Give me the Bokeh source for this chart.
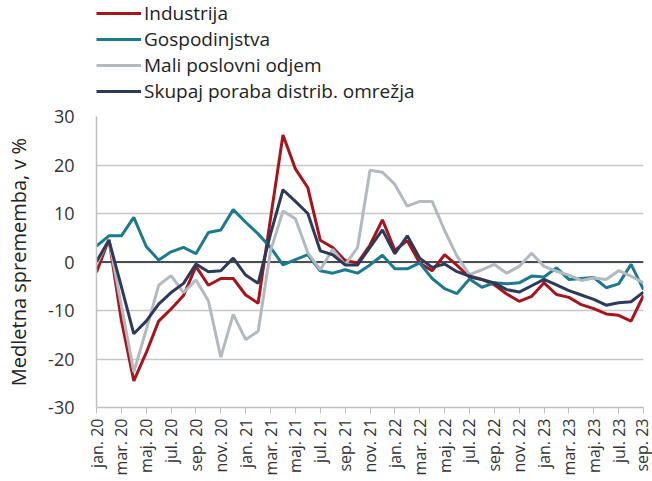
import math
from bokeh.plotting import figure
from bokeh.layouts import column
from bokeh.models import Range1d, FixedTicker, Legend, LegendItem, Span, ColumnDataSource
from bokeh.embed import file_html
from bokeh.resources import INLINE

mon = ["jan", "feb", "mar", "apr", "maj", "jun", "jul", "avg", "sep", "okt", "nov", "dec"]
months = [f"{mon[i % 12]}. {20 + i // 12}" for i in range(45)]
y_ticks = [-30, -20, -10, 0, 10, 20, 30]

industrija = [-2.1, 4.7, -12, -24.5, -18.7, -12.2, -9.7, -6.9, -0.9, -4.8, -3.4, -3.4, -6.8, -8.5, 9,
              26.2, 19.2, 15.3, 4.5, 3.0, 0.3, -0.2, 3.5, 8.7, 2.4, 4.4, -0.2, -1.8, 1.5, -0.7,
              -3.1, -3.6, -4.7, -6.6, -8.1, -7.1, -4.3, -6.7, -7.3, -8.8, -9.6, -10.7, -11, -12.2, -6.9]
gospodinjstva = [3.3, 5.4, 5.4, 9.2, 3.2, 0.4, 2.1, 3.0, 1.7, 6.1, 6.6, 10.8, 8.2, 5.8, 3.0,
                 -0.6, 0.5, 1.5, -1.8, -2.3, -1.6, -2.3, -0.6, 1.4, -1.4, -1.4, -0.2, -3.4, -5.5, -6.5,
                 -3.5, -5.2, -4.3, -4.5, -4.3, -2.9, -3.1, -1.2, -3.6, -3.4, -3.2, -5.3, -4.5, -0.5, -5.7]
mali = [-0.5, 4.7, -9, -22.7, -14, -4.8, -2.8, -6.3, -3.7, -8, -19.6, -10.8, -16, -14.3, 2.3,
        10.5, 8.9, 1.9, -1.6, 2.6, -0.6, 3.0, 18.9, 18.5, 16.0, 11.5, 12.5, 12.5, 6.5, 1.2,
        -2.6, -1.6, -0.5, -2.3, -0.9, 1.8, -0.9, -1.9, -2.7, -3.8, -3.3, -3.6, -1.8, -2.9, -4.3]
skupaj = [0.1, 4.5, -5.1, -14.8, -12.2, -8.7, -6.3, -4.4, -0.4, -2, -1.8, 0.8, -2.7, -4.4, 5.8,
          14.9, 12.5, 10.0, 2.3, 1.5, -0.6, -0.6, 3.0, 6.6, 1.7, 5.4, 0.8, -1.1, -0.4, -2,
          -2.9, -3.6, -4.3, -5.7, -6.2, -4.9, -3.6, -4.7, -5.9, -6.8, -7.7, -8.9, -8.4, -8.2, -6.2]

names = ["Industrija", "Gospodinjstva", "Mali poslovni odjem", "Skupaj poraba distrib. omrežja"]
colors = ["#A8141B", "#1B7A8E", "#B3BABF", "#2E3A5A"]
series = [industrija, gospodinjstva, mali, skupaj]

FONT = "Open Sans"
TXT = "#333333"

# ---- main chart ----
p = figure(width=652, height=377, output_backend="svg", toolbar_location=None,
           x_range=Range1d(0, 44), y_range=Range1d(-30, 30),
           min_border_left=96, min_border_right=9, min_border_top=12, min_border_bottom=74)
p.outline_line_color = None
p.background_fill_color = "white"
p.border_fill_color = "white"

p.xgrid.grid_line_color = None
p.ygrid.grid_line_color = "#C6C6C6"
p.ygrid.grid_line_width = 1.6

p.yaxis.ticker = FixedTicker(ticks=y_ticks)
p.yaxis.major_label_overrides = {t: str(t) for t in y_ticks}
p.yaxis.major_tick_line_color = None
p.yaxis.minor_tick_line_color = None
p.yaxis.axis_line_color = "#BFBFBF"
p.yaxis.axis_line_width = 1.5
p.yaxis.major_label_text_font = FONT
p.yaxis.major_label_text_font_size = "18px"
p.yaxis.major_label_text_color = TXT
p.yaxis.major_label_standoff = 16
p.yaxis.axis_label = "Medletna sprememba, v %"
p.yaxis.axis_label_text_font = FONT
p.yaxis.axis_label_text_font_style = "normal"
p.yaxis.axis_label_text_font_size = "20px"
p.yaxis.axis_label_text_color = "#222222"
p.yaxis.axis_label_standoff = 13

p.xaxis.ticker = FixedTicker(ticks=list(range(0, 45, 2)))
p.xaxis.major_label_overrides = {i: months[i] for i in range(0, 45, 2)}
p.xaxis.major_label_orientation = math.pi / 2
p.xaxis.major_label_text_font = FONT
p.xaxis.major_label_text_font_size = "16px"
p.xaxis.major_label_text_color = TXT
p.xaxis.major_tick_line_color = "#BFBFBF"
p.xaxis.major_tick_in = 0
p.xaxis.major_tick_out = 6
p.xaxis.minor_tick_line_color = None
p.xaxis.axis_line_color = "#BFBFBF"
p.xaxis.axis_line_width = 1.5
p.xaxis.major_label_standoff = 5

zero = Span(location=0, dimension="width", line_color="#474C57", line_width=1.8, level="underlay")
p.add_layout(zero)

x = list(range(45))
sources = []
for col, vals in zip(colors, series):
    src = ColumnDataSource(dict(x=x, y=vals))
    sources.append(src)
    p.line("x", "y", source=src, line_color=col, line_width=3)

# ---- legend strip above the chart ----
lf = figure(width=652, height=104, output_backend="svg", toolbar_location=None,
            x_axis_type=None, y_axis_type=None,
            x_range=Range1d(0, 1), y_range=Range1d(0, 1),
            min_border_left=0, min_border_right=0, min_border_top=0, min_border_bottom=0)
lf.outline_line_color = None
lf.background_fill_color = "white"
lf.border_fill_color = "white"

items = []
for name, col, src in zip(names, colors, sources):
    r = lf.line("x", "y", source=src, line_color=col, line_width=3, visible=False)
    items.append(LegendItem(label=name, renderers=[r]))

legend = Legend(items=items, location=(0, 0), orientation="vertical",
                label_text_font=FONT, label_text_font_size="19px", label_text_color="#222222",
                label_height=20, glyph_height=20, glyph_width=45, label_standoff=3,
                spacing=-4, padding=0, margin=0, border_line_color=None,
                background_fill_alpha=0)
lf.add_layout(legend)

layout = column(lf, p, spacing=0)
open("out.html", "w").write(file_html(layout, INLINE))
